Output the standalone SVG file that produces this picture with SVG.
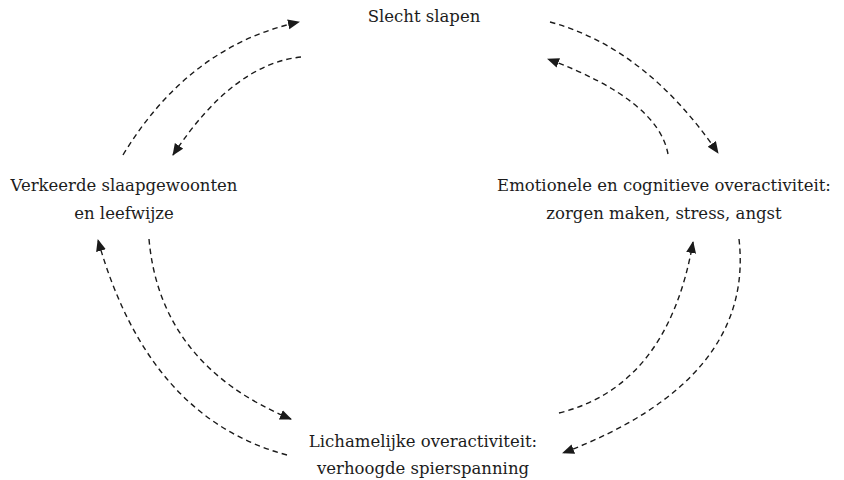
<svg xmlns="http://www.w3.org/2000/svg" width="844" height="480" viewBox="0 0 844 480">
<defs>
<marker id="ah" markerUnits="userSpaceOnUse" markerWidth="13" markerHeight="11" refX="11" refY="5" orient="auto">
<path d="M0,0 L12,5 L0,10 z" fill="#1a1a1a"/>
</marker>
<style>
.lbl{font-family:"DejaVu Serif","Liberation Serif",serif;font-size:16.5px;fill:#1c1c1c;text-anchor:middle}
.arc{fill:none;stroke:#1a1a1a;stroke-width:1.4;stroke-dasharray:5.5 4;marker-end:url(#ah)}
</style>
</defs>
<rect width="844" height="480" fill="#fff"/>
<g id="node-slecht-slapen"><text class="lbl" x="424" y="22">Slecht slapen</text></g>
<g id="node-verkeerde"><text class="lbl" x="124" y="191">Verkeerde slaapgewoonten</text><text class="lbl" x="124" y="219">en leefwijze</text></g>
<g id="node-emotionele"><text class="lbl" x="664" y="191">Emotionele en cognitieve overactiviteit:</text><text class="lbl" x="664" y="219">zorgen maken, stress, angst</text></g>
<g id="node-lichamelijke"><text class="lbl" x="423" y="447">Lichamelijke overactiviteit:</text><text class="lbl" x="423" y="474">verhoogde spierspanning</text></g>
<g id="connectors">
<path class="arc" d="M123,155 Q189,46 299,22"/>
<path class="arc" d="M301,57 Q233,64 173,155"/>
<path class="arc" d="M550,22 Q646,48 718,153"/>
<path class="arc" d="M668,154 Q658,100 548,59"/>
<path class="arc" d="M287,455 Q148,418 98,240"/>
<path class="arc" d="M149,239 Q160,365 291,419"/>
<path class="arc" d="M559,413 Q668,386 693,242"/>
<path class="arc" d="M739,239 Q755,380 563,453"/>
</g>
</svg>
